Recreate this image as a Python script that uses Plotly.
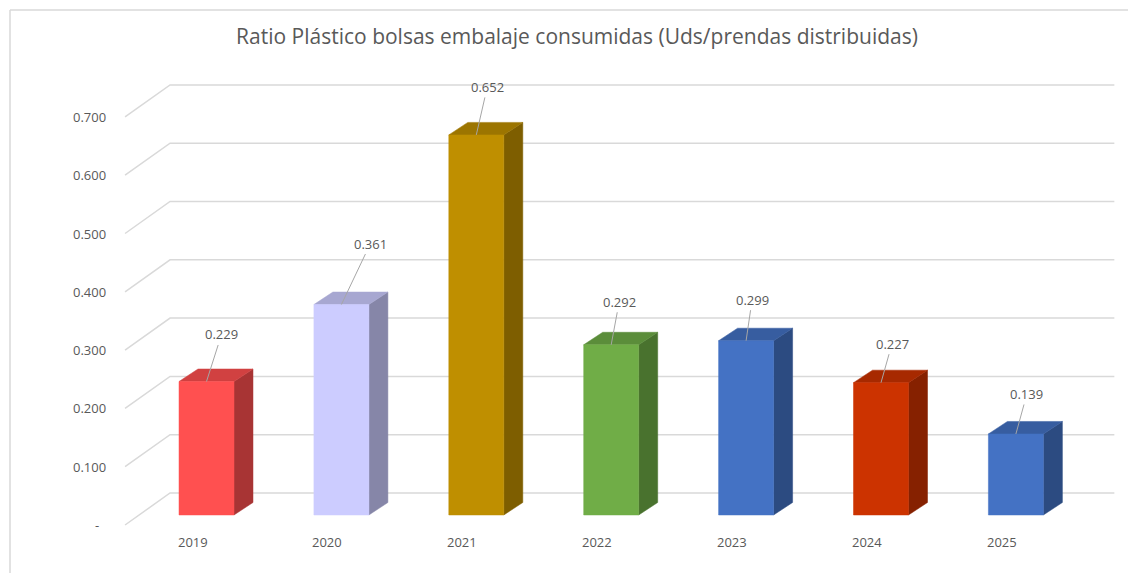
import plotly.graph_objects as go

# ---- data ----
years = ["2019", "2020", "2021", "2022", "2023", "2024", "2025"]
ratios = [0.229, 0.361, 0.652, 0.292, 0.299, 0.227, 0.139]
bar_colors = ["#FF5050", "#CCCCFF", "#BF8F00", "#70AD47", "#4472C4", "#CC3300", "#4472C4"]
tick_values = [0.0, 0.1, 0.2, 0.3, 0.4, 0.5, 0.6, 0.7]
tick_labels = ["-", "0.100", "0.200", "0.300", "0.400", "0.500", "0.600", "0.700"]
title_text = "Ratio Plástico bolsas embalaje consumidas (Uds/prendas distribuidas)"

# label placement (pixel offset of each value label from its bar top)
label_offsets = [(15, -47), (29, -61), (11, -48), (8, -43), (6, -41), (11, -39), (11, -40)]

# ---- geometry of the pseudo-3D view ----
W, H = 1128, 573
X_RANGE = [-1.5308, 6.8310]
Y_RANGE = [-0.0995, 0.8834]
px_x = W / (X_RANGE[1] - X_RANGE[0])   # pixels per category unit
px_y = H / (Y_RANGE[1] - Y_RANGE[0])   # pixels per value unit


def dx(p):
    return p / px_x


def dy(p):
    return p / px_y


BAR_W = dx(55)
BAR_DX, BAR_DY = dx(19), dy(12.5)          # bar depth
BACK_DX, BACK_DY = dx(31), dy(22)           # bar plane -> back wall
FRONT_DX, FRONT_DY = dx(-14), dy(-10)       # bar plane -> front floor edge
LEFT, RIGHT = -0.5, 6.5

GRID = "#D9D9D9"
TEXT = "#595959"
FONT = "Open Sans"


def shade(hex_color, k):
    h = hex_color.lstrip("#")
    r, g, b = (int(h[i:i + 2], 16) for i in (0, 2, 4))
    return "#{:02X}{:02X}{:02X}".format(int(r * k), int(g * k), int(b * k))


fig = go.Figure()

# back wall gridlines with the diagonal side-wall segment
for t in tick_values:
    fig.add_trace(go.Scatter(
        x=[LEFT + FRONT_DX, LEFT + BACK_DX, RIGHT + BACK_DX],
        y=[t + FRONT_DY, t + BACK_DY, t + BACK_DY],
        mode="lines", line=dict(color=GRID, width=1.5),
        hoverinfo="skip", showlegend=False))

# bars: side, top and front faces
for i, (v, c) in enumerate(zip(ratios, bar_colors)):
    l, r = i - BAR_W / 2, i + BAR_W / 2
    faces = [
        ([r, r + BAR_DX, r + BAR_DX, r], [0, BAR_DY, v + BAR_DY, v], shade(c, 0.66)),
        ([l, r, r + BAR_DX, l + BAR_DX], [v, v, v + BAR_DY, v + BAR_DY], shade(c, 0.82)),
        ([l, r, r, l], [0, 0, v, v], c),
    ]
    for fx, fy, fc in faces:
        fig.add_trace(go.Scatter(
            x=fx + [fx[0]], y=fy + [fy[0]], fill="toself", fillcolor=fc,
            mode="lines", line=dict(color=fc, width=0.5),
            hoverinfo="skip", showlegend=False))

annotations = []

# value labels with leader lines
for i, (v, (ox, oy)) in enumerate(zip(ratios, label_offsets)):
    annotations.append(dict(
        x=i, y=v, xref="x", yref="y", text=f"{v:.3f}",
        showarrow=True, arrowhead=0, arrowwidth=1, arrowcolor="#A6A6A6",
        ax=ox, ay=oy, standoff=0, font=dict(family=FONT, size=13, color=TEXT)))

# value-axis labels
for t, lab in zip(tick_values, tick_labels):
    annotations.append(dict(
        x=LEFT + FRONT_DX, y=t + FRONT_DY, xref="x", yref="y", text=lab,
        showarrow=False, xanchor="right", yanchor="middle",
        xshift=-17 if lab != "-" else -24,
        font=dict(family=FONT, size=13, color=TEXT)))

# category labels
for i, yr in enumerate(years):
    annotations.append(dict(
        x=i + FRONT_DX, y=FRONT_DY, xref="x", yref="y", text=yr,
        showarrow=False, xanchor="center", yanchor="middle", yshift=-17,
        font=dict(family=FONT, size=13, color=TEXT)))

fig.update_layout(
    width=W, height=H,
    margin=dict(l=0, r=0, t=0, b=0),
    paper_bgcolor="white", plot_bgcolor="white",
    xaxis=dict(range=X_RANGE, visible=False, fixedrange=True),
    yaxis=dict(range=Y_RANGE, visible=False, fixedrange=True),
    title=dict(text=title_text, x=0.5 + 13 / W, xanchor="center", y=1 - 37 / H,
               yanchor="middle", yref="container",
               font=dict(family=FONT, size=21, color=TEXT)),
    annotations=annotations,
    shapes=[
        dict(type="line", xref="paper", yref="paper", x0=10 / W, x1=1.0,
             y0=1 - 10 / H, y1=1 - 10 / H, line=dict(color=GRID, width=1.5)),
        dict(type="line", xref="paper", yref="paper", x0=10 / W, x1=10 / W,
             y0=0, y1=1 - 10 / H, line=dict(color=GRID, width=1.5)),
    ],
)

fig.write_html("out.html")
